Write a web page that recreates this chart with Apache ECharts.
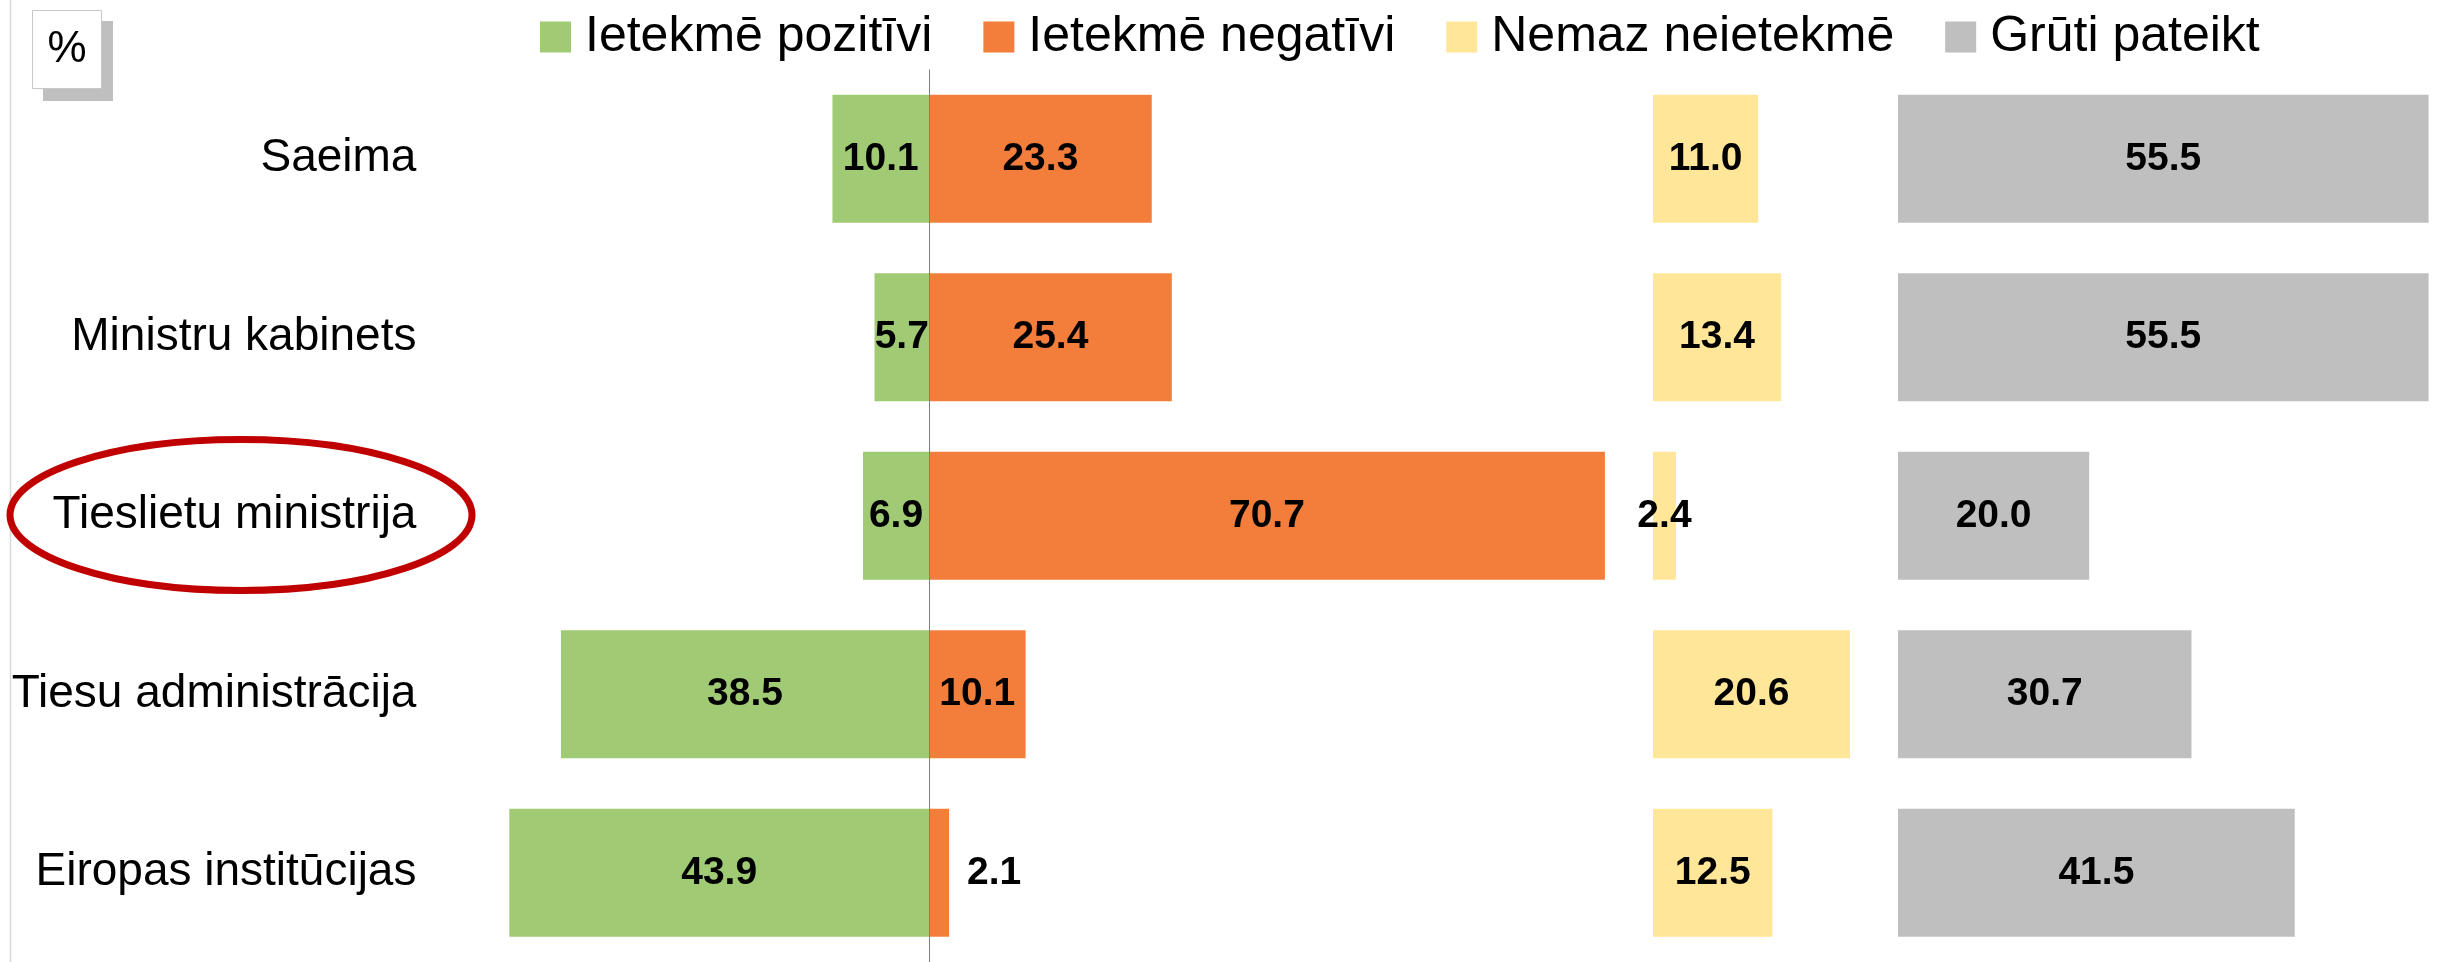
<!DOCTYPE html>
<html>
<head>
<meta charset="utf-8">
<script src="https://cdn.jsdelivr.net/npm/echarts@6/dist/echarts.min.js"></script>
<style>
  html, body { margin: 0; padding: 0; background: #fff; }
  #chart { width: 2445px; height: 962px; }
</style>
</head>
<body>
<div id="chart"></div>
<script>
const categories = ["Saeima", "Ministru kabinets", "Tieslietu ministrija", "Tiesu administrācija", "Eiropas institūcijas"];
const seriesNames = ["Ietekmē pozitīvi", "Ietekmē negatīvi", "Nemaz neietekmē", "Grūti pateikt"];
const positive = [10.1, 5.7, 6.9, 38.5, 43.9];
const negative = [23.3, 25.4, 70.7, 10.1, 2.1];
const noEffect = [11.0, 13.4, 2.4, 20.6, 12.5];
const hardToSay = [55.5, 55.5, 20.0, 30.7, 41.5];

const FONT = "'Liberation Sans', Arial, sans-serif";
const unit = 9.56;   // px per percent
const zeroX = 929;   // centre line
const gridTop = 69.5, gridHeight = 895;

const barLabel = {
  show: true,
  position: "inside",
  color: "#000",
  fontWeight: "bold",
  fontSize: 39,
  fontFamily: FONT,
  formatter: (p) => Math.abs(p.value).toFixed(1),
};

const chart = echarts.init(document.getElementById("chart"));
chart.setOption({
  animation: false,
  color: ["#A1CA74", "#F37E3B", "#FFE699", "#BFBFBF"],
  legend: {
    data: seriesNames,
    left: 535,
    top: 7,
    icon: "rect",
    itemWidth: 31,
    itemHeight: 31,
    itemGap: 51,
    textStyle: { fontSize: 50, fontFamily: FONT, color: "#000", padding: [0, 0, 0, 9] },
  },
  grid: [
    { left: zeroX - 51 * unit, top: gridTop, width: 123 * unit, height: gridHeight },
    { left: 1653, top: gridTop, width: 22 * unit, height: gridHeight },
    { left: 1898, top: gridTop, width: 56 * unit, height: gridHeight },
  ],
  xAxis: [
    { gridIndex: 0, type: "value", min: -51, max: 72, show: false },
    { gridIndex: 1, type: "value", min: 0, max: 22, show: false },
    { gridIndex: 2, type: "value", min: 0, max: 56, show: false },
  ],
  yAxis: [
    {
      gridIndex: 0,
      type: "category",
      data: categories,
      inverse: true,
      axisLine: { show: false },
      axisTick: { show: false },
      axisLabel: { margin: 25, fontSize: 46, fontFamily: FONT, color: "#000" },
    },
    { gridIndex: 1, type: "category", data: categories, inverse: true, show: false },
    { gridIndex: 2, type: "category", data: categories, inverse: true, show: false },
  ],
  series: [
    {
      name: seriesNames[0],
      type: "bar",
      stack: "effect",
      xAxisIndex: 0,
      yAxisIndex: 0,
      barWidth: 128,
      data: positive.map((v) => -v),
      label: barLabel,
      markLine: {
        silent: true,
        symbol: ["none", "none"],
        label: { show: false },
        lineStyle: { color: "#7f7f7f", width: 1, type: "solid" },
        data: [{ xAxis: 0 }],
      },
    },
    {
      name: seriesNames[1],
      type: "bar",
      stack: "effect",
      xAxisIndex: 0,
      yAxisIndex: 0,
      barWidth: 128,
      // small values get their label outside the bar end
      data: negative.map((v) => (v < 3 ? { value: v, label: { position: "right", distance: 18 } } : v)),
      label: barLabel,
    },
    {
      name: seriesNames[2],
      type: "bar",
      xAxisIndex: 1,
      yAxisIndex: 1,
      barWidth: 128,
      data: noEffect,
      label: barLabel,
    },
    {
      name: seriesNames[3],
      type: "bar",
      xAxisIndex: 2,
      yAxisIndex: 2,
      barWidth: 128,
      data: hardToSay,
      label: barLabel,
    },
  ],
  graphic: [
    { type: "line", shape: { x1: 10.5, y1: 0, x2: 10.5, y2: 962 }, style: { stroke: "#d9d9d9", lineWidth: 1.5 } },
    { type: "rect", shape: { x: 43, y: 21, width: 70, height: 80 }, style: { fill: "#bfbfbf" } },
    { type: "rect", shape: { x: 32.5, y: 10.5, width: 69, height: 78 }, style: { fill: "#fff", stroke: "#c8c8c8", lineWidth: 1 } },
    {
      type: "text",
      x: 67,
      y: 50,
      style: { text: "%", fontSize: 44, fontFamily: FONT, fill: "#000", align: "center", verticalAlign: "middle" },
    },
    {
      type: "ellipse",
      shape: { cx: 241, cy: 515, rx: 231, ry: 75.5 },
      style: { fill: "none", stroke: "#C00000", lineWidth: 7 },
      z: 10,
    },
  ],
});
</script>
</body>
</html>
